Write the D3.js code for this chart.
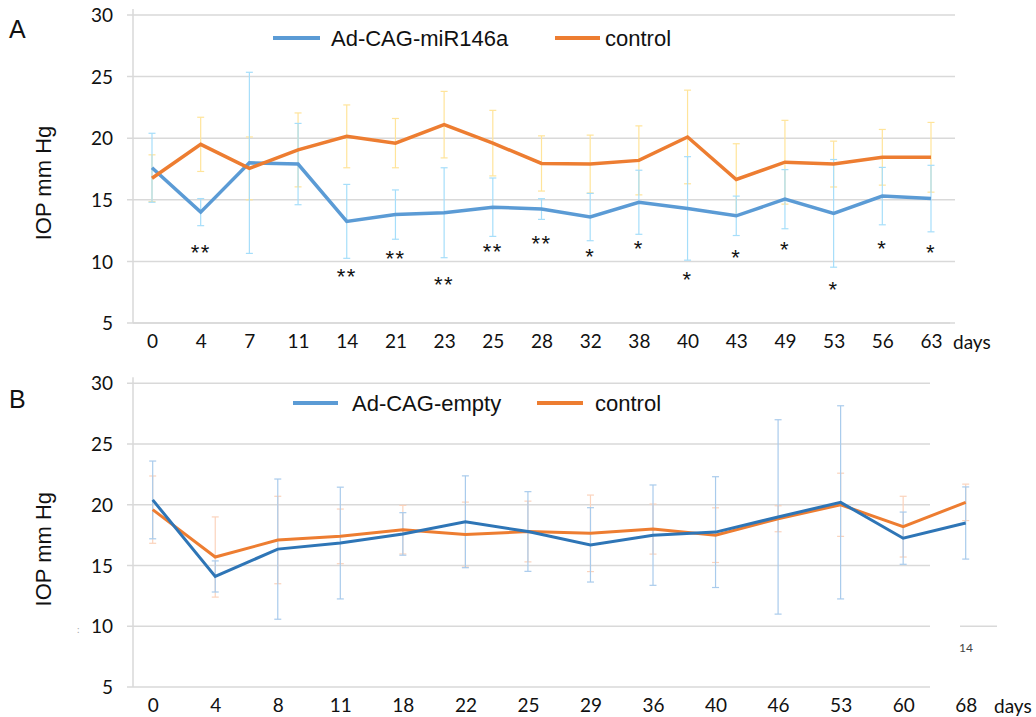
<!DOCTYPE html>
<html>
<head>
<meta charset="utf-8">
<script src="https://cdn.jsdelivr.net/npm/d3@7"></script>
<style>
  html, body { margin: 0; padding: 0; background: #fff; }
  svg { display: block; }
</style>
</head>
<body>
<svg id="chart" width="1036" height="717"></svg>
<script>
// ---------- Panel A data ----------
const daysA = ["0","4","7","11","14","21","23","25","28","32","38","40","43","49","53","56","63"];
const miR146a    = [17.6, 14.0, 18.0, 17.9, 13.25, 13.8, 13.95, 14.4, 14.25, 13.6, 14.8, 14.3, 13.7, 15.05, 13.9, 15.3, 15.1];
const miR146aErr = [2.8, 1.1, 7.35, 3.3, 3.0, 2.0, 3.65, 2.37, 0.84, 1.92, 2.6, 4.2, 1.6, 2.4, 4.37, 2.33, 2.7];
const controlA    = [16.75, 19.5, 17.55, 19.05, 20.15, 19.6, 21.1, 19.6, 17.95, 17.9, 18.2, 20.1, 16.65, 18.05, 17.9, 18.45, 18.45];
const controlAErr = [1.9, 2.2, 2.55, 3.0, 2.55, 2.0, 2.7, 2.66, 2.24, 2.35, 2.8, 3.8, 2.9, 3.4, 1.86, 2.26, 2.83];
const sigMarksA = ["", "**", "", "", "**", "**", "**", "**", "**", "*", "*", "*", "*", "*", "*", "*", "*"];
const sigLevelA = [0, 11.1, 0, 0, 9.1, 10.6, 8.5, 11.2, 11.8, 10.8, 11.4, 8.9, 10.7, 11.3, 8.1, 11.4, 11.05];

// ---------- Panel B data ----------
const daysB = ["0","4","8","11","18","22","25","29","36","40","46","53","60","68"];
const emptyVec    = [20.4, 14.1, 16.35, 16.85, 17.6, 18.6, 17.8, 16.7, 17.5, 17.75, 19.0, 20.2, 17.25, 18.5];
const emptyVecErr = [3.2, 1.28, 5.77, 4.6, 1.75, 3.78, 3.28, 3.06, 4.13, 4.56, 8.0, 7.95, 2.15, 2.97];
const controlB    = [19.6, 15.7, 17.1, 17.4, 17.95, 17.55, 17.8, 17.65, 18.0, 17.5, 18.85, 20.0, 18.2, 20.2];
const controlBErr = [2.77, 3.3, 3.6, 2.25, 2.0, 2.67, 2.5, 3.15, 2.06, 2.25, 1.07, 2.6, 2.5, 1.5];

const yTicks = [5, 10, 15, 20, 25, 30];

const svg = d3.select("#chart");
const tickFont = "Lato, 'Open Sans', sans-serif";
const textFont = "'Liberation Sans', Arial, sans-serif";

function drawPanel(cfg) {
  const g = svg.append("g");
  const x = d3.scalePoint().domain(cfg.days).range([cfg.xFirst, cfg.xLast]);
  const y = d3.scaleLinear().domain([5, 30]).range([cfg.yBottom, cfg.yTop]);

  // gridlines
  g.append("g").selectAll("line").data(yTicks).join("line")
    .attr("x1", cfg.plotLeft - 6).attr("x2", cfg.plotRight)
    .attr("y1", d => y(d)).attr("y2", d => y(d))
    .attr("stroke", "#d9d9d9").attr("stroke-width", 1.5);

  // left axis line
  g.append("line")
    .attr("x1", cfg.plotLeft).attr("x2", cfg.plotLeft)
    .attr("y1", cfg.yTop - 6).attr("y2", cfg.yBottom)
    .attr("stroke", "#d9d9d9").attr("stroke-width", 1.5);

  // y axis labels via d3 axis
  const yAxis = d3.axisLeft(y).tickValues(yTicks).tickSize(0).tickPadding(0);
  const ya = g.append("g").attr("transform", `translate(${cfg.plotLeft - 20},0)`).call(yAxis);
  ya.select(".domain").remove();
  ya.selectAll("text").attr("font-family", tickFont).attr("font-size", 19).attr("fill", "#111").attr("dy", "0.35em");

  // x axis labels
  const xAxis = d3.axisBottom(x).tickSize(0).tickPadding(0);
  const xa = g.append("g").attr("transform", `translate(0,${cfg.yBottom + 11})`).call(xAxis);
  xa.select(".domain").remove();
  xa.selectAll("text").attr("font-family", tickFont).attr("font-size", 19).attr("fill", "#111");

  g.append("text").attr("x", cfg.daysX).attr("y", cfg.yBottom + 26)
    .attr("font-family", tickFont).attr("font-size", 19).attr("fill", "#111").text("days");

  // y title
  g.append("text")
    .attr("transform", `translate(51,${(cfg.yTop + cfg.yBottom) / 2 + 14}) rotate(-90)`)
    .attr("text-anchor", "middle")
    .attr("font-family", textFont).attr("font-size", 22).attr("fill", "#111")
    .text("IOP mm Hg");

  // panel letter
  g.append("text").attr("x", 9).attr("y", cfg.letterY)
    .attr("font-family", textFont).attr("font-size", 25).attr("fill", "#111").text(cfg.letter);

  // error bars
  function errBars(vals, errs, color) {
    const eb = g.append("g").attr("stroke", color).attr("stroke-width", 1.2).attr("fill", "none");
    cfg.days.forEach((d, i) => {
      const cx = x(d), top = y(vals[i] + errs[i]), bot = y(vals[i] - errs[i]);
      eb.append("line").attr("x1", cx).attr("x2", cx).attr("y1", top).attr("y2", bot);
      eb.append("line").attr("x1", cx - 3.5).attr("x2", cx + 3.5).attr("y1", top).attr("y2", top);
      eb.append("line").attr("x1", cx - 3.5).attr("x2", cx + 3.5).attr("y1", bot).attr("y2", bot);
    });
  }
  cfg.errOrder.forEach(s => errBars(s.vals, s.errs, s.errColor));

  const line = d3.line().x((d, i) => x(cfg.days[i])).y(d => y(d));
  cfg.lineOrder.forEach(s => {
    g.append("path").datum(s.vals).attr("d", line)
      .attr("fill", "none").attr("stroke", s.color).attr("stroke-width", cfg.lineWidth)
      .attr("stroke-linejoin", "miter");
  });

  // legend
  cfg.legend.forEach(l => {
    g.append("line").attr("x1", l.x1).attr("x2", l.x2).attr("y1", cfg.legendY).attr("y2", cfg.legendY)
      .attr("stroke", l.color).attr("stroke-width", 4);
    g.append("text").attr("x", l.tx).attr("y", cfg.legendY + 8)
      .attr("font-family", textFont).attr("font-size", 22).attr("fill", "#111").text(l.label);
  });

  return { g, x, y };
}

// Panel A
const A = drawPanel({
  days: daysA, xFirst: 152, xLast: 931, plotLeft: 133, plotRight: 955,
  yTop: 15, yBottom: 323, daysX: 953, letter: "A", letterY: 38, lineWidth: 3.5,
  errOrder: [
    { vals: controlA, errs: controlAErr, errColor: "#ffe49a" },
    { vals: miR146a, errs: miR146aErr, errColor: "#a6defa" }
  ],
  lineOrder: [
    { vals: miR146a, color: "#5b9bd5" },
    { vals: controlA, color: "#ed7d31" }
  ],
  legendY: 38,
  legend: [
    { x1: 273, x2: 320, tx: 331, color: "#5b9bd5", label: "Ad-CAG-miR146a" },
    { x1: 555, x2: 600, tx: 605, color: "#ed7d31", label: "control" }
  ]
});
// significance marks
A.g.append("g").selectAll("text").data(sigMarksA).join("text")
  .attr("x", (d, i) => A.x(daysA[i]))
  .attr("y", (d, i) => A.y(sigLevelA[i]) + 12)
  .attr("text-anchor", "middle")
  .attr("font-family", textFont).attr("font-size", 22)
  .attr("letter-spacing", 1.5)
  .attr("fill", "#111").text(d => d);
// bottom axis line A
A.g.append("line").attr("x1", 133).attr("x2", 950).attr("y1", 323).attr("y2", 323)
  .attr("stroke", "#d9d9d9").attr("stroke-width", 1.5);

// Panel B
const B = drawPanel({
  days: daysB, xFirst: 152.7, xLast: 965.7, plotLeft: 133, plotRight: 930,
  yTop: 383.3, yBottom: 687, daysX: 994, letter: "B", letterY: 408, lineWidth: 3,
  errOrder: [
    { vals: controlB, errs: controlBErr, errColor: "#fbd3bc" },
    { vals: emptyVec, errs: emptyVecErr, errColor: "#a9cbec" }
  ],
  lineOrder: [
    { vals: controlB, color: "#ed7d31" },
    { vals: emptyVec, color: "#2e75b6" }
  ],
  legendY: 403,
  legend: [
    { x1: 293, x2: 338, tx: 352, color: "#5b9bd5", label: "Ad-CAG-empty" },
    { x1: 537, x2: 583, tx: 595, color: "#ed7d31", label: "control" }
  ]
});
// stray marks in panel B
B.g.append("line").attr("x1", 960).attr("x2", 997).attr("y1", B.y(10)).attr("y2", B.y(10))
  .attr("stroke", "#d9d9d9").attr("stroke-width", 1.5);
B.g.append("text").attr("x", 959).attr("y", 652)
  .attr("font-family", tickFont).attr("font-size", 12).attr("fill", "#444").text("14");
B.g.append("text").attr("x", 77).attr("y", 633)
  .attr("font-family", tickFont).attr("font-size", 10).attr("fill", "#aaa").text(":");
</script>
</body>
</html>
